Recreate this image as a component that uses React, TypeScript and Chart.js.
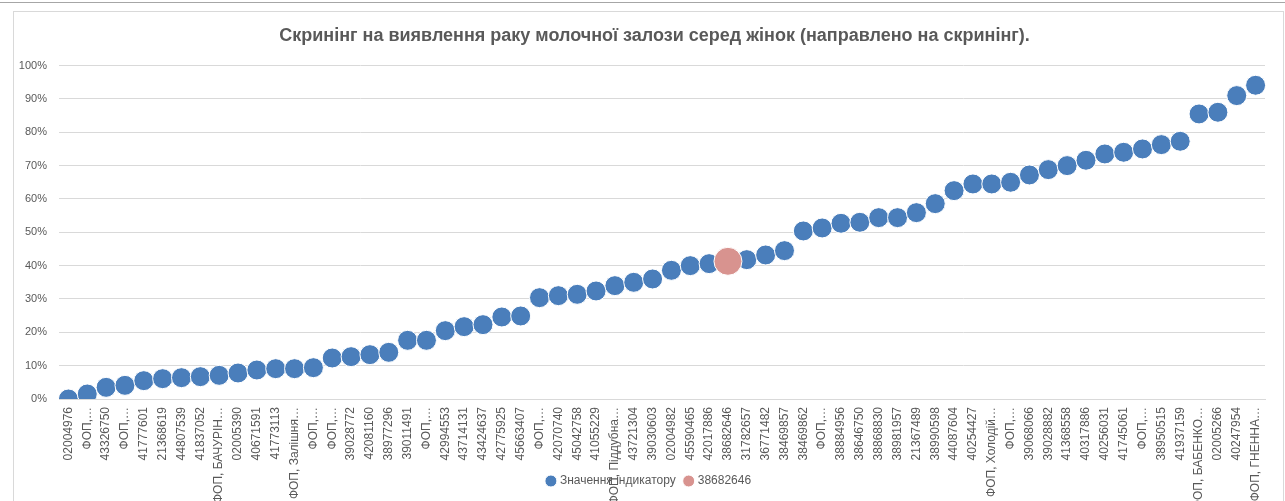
import React, { useEffect, useRef } from 'react';
import { Chart, registerables } from 'chart.js';

Chart.register(...registerables);

const TITLE = 'Скринінг на виявлення раку молочної залози серед жінок (направлено на скринінг).';
const SERIES_LABEL = 'Значення індикатору';
const HIGHLIGHT_CODE = '38682646';

const categories = [
  '02004976', 'ФОП,…', '43326750', 'ФОП,…', '41777601', '21368619', '44807539', '41837052',
  'ФОП, БАЧУРІН…', '02005390', '40671591', '41773113', 'ФОП, Залішня…', 'ФОП,…', 'ФОП,…', '39028772',
  '42081160', '38977296', '39011491', 'ФОП,…', '42994553', '43714131', '43424637', '42775925',
  '45663407', 'ФОП,…', '42070740', '45042758', '41055229', 'ФОП, Піддубна…', '43721304', '39030603',
  '02004982', '45590465', '42017886', '38682646', '31782657', '36771482', '38469857', '38469862',
  'ФОП,…', '38884956', '38646750', '38868830', '38981957', '21367489', '38990598', '44087604',
  '40254427', 'ФОП, Холодій…', 'ФОП,…', '39068066', '39028882', '41368558', '40317886', '40256031',
  '41745061', 'ФОП,…', '38950515', '41937159', 'ФОП, БАБЕНКО…', '02005266', '40247954', 'ФОП, ГНЕННА…',
];

const indicatorValues = [
  0, 1.5, 3.5, 4.1, 5.5, 6.1, 6.4, 6.7, 7.1, 7.8, 8.7, 9.1, 9.1, 9.4, 12.3, 12.7,
  13.3, 14.0, 17.6, 17.6, 20.5, 21.7, 22.3, 24.6, 24.9, 30.4, 31.0, 31.4, 32.4, 34.0, 35.0, 36.0,
  38.6, 40.0, 40.6, 41.3, 41.8, 43.2, 44.5, 50.4, 51.3, 52.7, 53.0, 54.4, 54.4, 55.9, 58.6, 62.5,
  64.5, 64.5, 65.0, 67.2, 68.8, 70.0, 71.6, 73.5, 74.0, 75.0, 76.3, 77.3, 85.5, 86.0, 91.0, 94.1,
];

const yTicks = [0, 10, 20, 30, 40, 50, 60, 70, 80, 90, 100];

const highlightValues = indicatorValues.map((v, i) => (categories[i] === HIGHLIGHT_CODE ? v : null));

const BLUE = '#4a7ebb';
const PINK = '#d8938f';
const TEXT = '#595959';
const GRID = '#d9d9d9';
const FONT = "'Liberation Sans', Arial, sans-serif";

// lets the rotated category labels run past the axis box (over the legend), and
// nudges title and legend to sit where they do in the reference
const layoutTweaks = {
  id: 'layoutTweaks',
  afterLayout(chart: any) {
    const xs = chart.scales.x;
    if (xs) xs.bottom = chart.height;
    const lg = chart.legend;
    if (lg) lg.left = lg.left + 34;
    const tb = chart.titleBlock;
    if (tb) {
      tb.left = tb.left + 22;
      tb.right = tb.right + 22;
    }
  },
};

export default function App() {
  const ref = useRef<HTMLCanvasElement | null>(null);

  useEffect(() => {
    if (!ref.current) return;
    const chart = new Chart(ref.current, {
      type: 'line',
      data: {
        labels: categories,
        datasets: [
          {
            label: SERIES_LABEL,
            data: indicatorValues,
            showLine: false,
            pointRadius: 10,
            pointHoverRadius: 10,
            pointBackgroundColor: BLUE,
            pointBorderColor: '#ffffff',
            pointBorderWidth: 1,
            backgroundColor: BLUE,
            borderColor: BLUE,
            order: 2,
          },
          {
            label: HIGHLIGHT_CODE,
            data: highlightValues,
            showLine: false,
            pointRadius: 14,
            pointHoverRadius: 14,
            pointBackgroundColor: PINK,
            pointBorderColor: '#ffffff',
            pointBorderWidth: 1,
            backgroundColor: PINK,
            borderColor: PINK,
            order: 1,
          },
        ],
      },
      plugins: [layoutTweaks],
      options: {
        responsive: false,
        animation: false,
        layout: { padding: { left: 0, right: 20, top: 0, bottom: 4 } },
        plugins: {
          title: {
            display: true,
            text: TITLE,
            color: TEXT,
            font: { family: FONT, size: 18, weight: 'bold' },
            padding: { top: 25, bottom: 19 },
          },
          legend: {
            position: 'bottom',
            labels: {
              usePointStyle: true,
              boxWidth: 6,
              boxHeight: 8.5,
              color: TEXT,
              font: { family: FONT, size: 12 },
              padding: 10,
              sort: (a: any, b: any) => a.datasetIndex - b.datasetIndex,
            },
          },
          tooltip: { enabled: false },
        },
        scales: {
          x: {
            offset: true,
            grid: { display: false },
            border: { display: true, color: GRID },
            ticks: {
              autoSkip: false,
              maxRotation: 90,
              minRotation: 90,
              color: TEXT,
              font: { family: FONT, size: 12 },
              padding: 0,
            },
            afterFit: (s: any) => {
              s.height = 66;
            },
          },
          y: {
            min: 0,
            max: 100,
            afterBuildTicks: (s: any) => {
              s.ticks = yTicks.map((v) => ({ value: v }));
            },
            ticks: {
              color: TEXT,
              font: { family: FONT, size: 11 },
              padding: 12,
              callback: (v: any) => v + '%',
            },
            grid: { color: GRID, drawTicks: false },
            border: { display: false },
            afterFit: (s: any) => {
              s.width = 59;
            },
          },
        },
      },
    });
    return () => chart.destroy();
  }, []);

  return (
    <div style={{ position: 'absolute', left: 0, top: 0, width: 1285, height: 501, background: '#ffffff', overflow: 'hidden' }}>
      <div style={{ position: 'absolute', left: 0, top: 2, width: 1285, height: 1, background: '#a6a6a6' }} />
      <div style={{ position: 'absolute', left: 13, top: 11, width: 1269, height: 600, border: '1px solid ' + GRID }} />
      <canvas ref={ref} width={1285} height={501} style={{ position: 'absolute', left: 0, top: 0, width: 1285, height: 501 }} />
    </div>
  );
}
